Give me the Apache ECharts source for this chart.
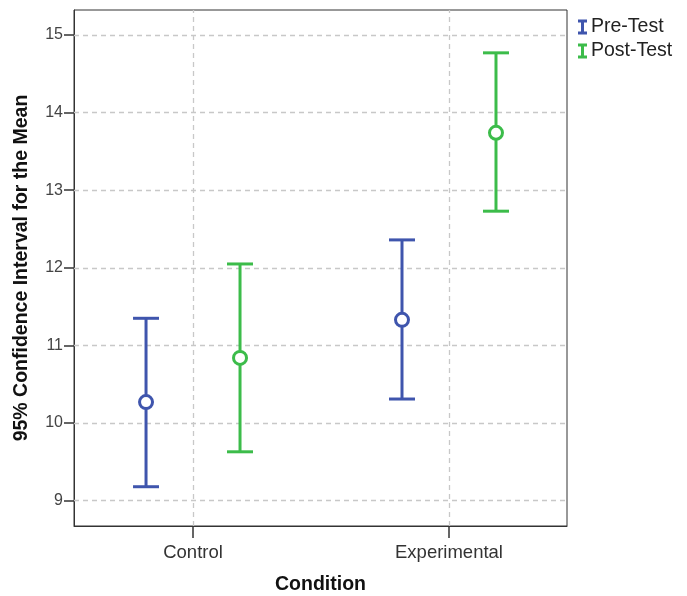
<!DOCTYPE html>
<html>
<head>
<meta charset="utf-8">
<script src="https://cdn.jsdelivr.net/npm/echarts@6/dist/echarts.min.js"></script>
<style>
html,body{margin:0;padding:0;background:#fff;}
#c{width:687px;height:596px;}
</style>
</head>
<body>
<div id="c"></div>
<script>
// ---- data ----
var categories = ['Control', 'Experimental'];
var seriesNames = ['Pre-Test', 'Post-Test'];
var preMean  = [10.27, 11.33];
var preLower = [9.18, 10.31];
var preUpper = [11.35, 12.36];
var postMean  = [10.84, 13.74];
var postLower = [9.63, 12.73];
var postUpper = [12.05, 14.77];
var yTicks = [9, 10, 11, 12, 13, 14, 15];

var BLUE = '#3F55AD', GREEN = '#3CBC4A';
var FONT = '"Liberation Sans", Arial, sans-serif';

function buildData(mean, lower, upper) {
  return categories.map(function (c, i) { return [i, mean[i], lower[i], upper[i]]; });
}

function makeRender(offset, color) {
  return function (params, api) {
    var x = api.value(0) + offset;
    var m = api.coord([x, api.value(1)]);
    var lo = api.coord([x, api.value(2)]);
    var hi = api.coord([x, api.value(3)]);
    var cap = 13, r = 6.5;
    var st = { stroke: color, lineWidth: 3, fill: null };
    return {
      type: 'group',
      children: [
        { type: 'line', shape: { x1: lo[0], y1: lo[1], x2: hi[0], y2: hi[1] }, style: st },
        { type: 'line', shape: { x1: lo[0] - cap, y1: lo[1], x2: lo[0] + cap, y2: lo[1] }, style: st },
        { type: 'line', shape: { x1: hi[0] - cap, y1: hi[1], x2: hi[0] + cap, y2: hi[1] }, style: st },
        { type: 'circle', shape: { cx: m[0], cy: m[1], r: r }, style: { stroke: color, lineWidth: 3, fill: '#fff' } }
      ]
    };
  };
}

var gridLines = [{ xAxis: 0 }, { xAxis: 1 }].concat(yTicks.map(function (v) { return { yAxis: v }; }));

var chart = echarts.init(document.getElementById('c'), null, { renderer: 'canvas' });
chart.setOption({
  backgroundColor: '#fff',
  animation: false,
  grid: { left: 74, top: 10, right: 120, bottom: 70, outerBoundsMode: 'none', containLabel: false,
    show: true, borderColor: '#333', borderWidth: 1, backgroundColor: 'transparent' },
  legend: {
    orient: 'vertical',
    left: 573, top: 12,
    itemWidth: 9, itemHeight: 15, itemGap: 4,
    data: seriesNames.map(function (n) {
      return { name: n, icon: 'path://M0,0H9V3H6V12H9V15H0V12H3V3H0Z' };
    }),
    textStyle: { fontFamily: FONT, fontSize: 19.5, color: '#222', padding: [0, 0, 0, -1] },
    selectedMode: false
  },
  xAxis: {
    type: 'value',
    min: -0.465, max: 1.461,
    name: 'Condition',
    nameLocation: 'middle',
    nameGap: 49,
    nameTextStyle: { fontFamily: FONT, fontSize: 19.5, fontWeight: 'bold', color: '#111' },
    axisLine: { show: true, onZero: false, lineStyle: { color: '#333', width: 1 } },
    axisTick: { show: true, length: 12, customValues: [0, 1], lineStyle: { color: '#333', width: 1.5 } },
    axisLabel: { customValues: [0, 1], fontFamily: FONT, fontSize: 18.5, color: '#333', margin: 17,
      formatter: function (v) { return categories[Math.round(v)] || ''; } },
    splitLine: { show: false }
  },
  yAxis: {
    type: 'value',
    min: 8.674, max: 15.322,
    name: '95% Confidence Interval for the Mean',
    nameLocation: 'middle',
    nameGap: 42,
    nameTextStyle: { fontFamily: FONT, fontSize: 19.5, fontWeight: 'bold', color: '#111' },
    axisLine: { show: true, onZero: false, lineStyle: { color: '#333', width: 1 } },
    axisTick: { show: true, length: 10, customValues: yTicks, lineStyle: { color: '#333', width: 1.5 } },
    axisLabel: { customValues: yTicks, fontFamily: FONT, fontSize: 16, color: '#444', margin: 11 },
    splitLine: { show: false }
  },
  series: [
    {
      type: 'line', data: [], silent: true,
      markLine: {
        silent: true, symbol: 'none', z: 1,
        label: { show: false },
        lineStyle: { type: [5, 4], color: '#C8C8C8', width: 1.3 },
        data: gridLines
      }
    },
    {
      name: seriesNames[0], type: 'custom', z: 5,
      itemStyle: { color: BLUE },
      renderItem: makeRender(-0.1836, BLUE),
      encode: { x: 0, y: [1, 2, 3] },
      data: buildData(preMean, preLower, preUpper)
    },
    {
      name: seriesNames[1], type: 'custom', z: 5,
      itemStyle: { color: GREEN },
      renderItem: makeRender(0.1836, GREEN),
      encode: { x: 0, y: [1, 2, 3] },
      data: buildData(postMean, postLower, postUpper)
    }
  ]
});
</script>
</body>
</html>
